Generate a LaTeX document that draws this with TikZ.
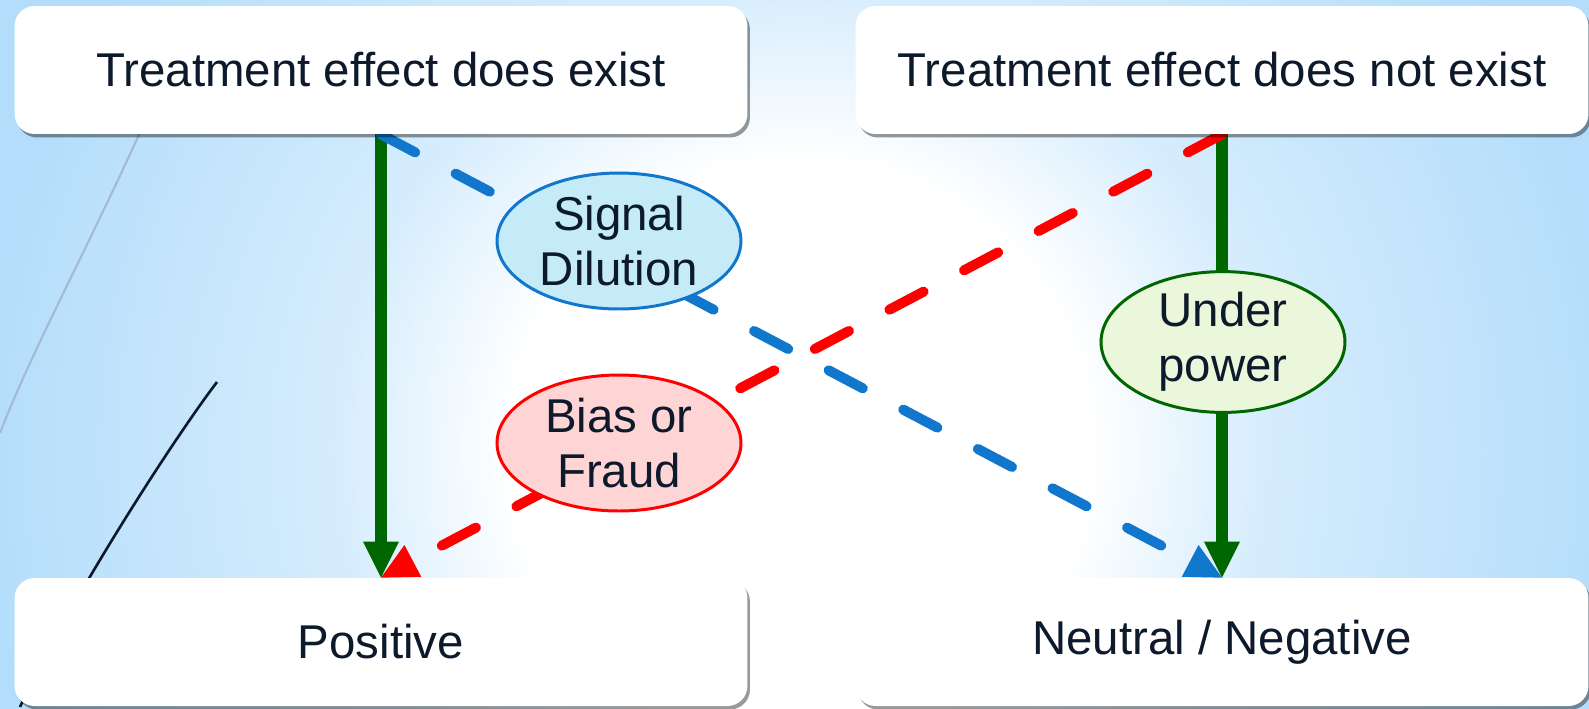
\documentclass[tikz,border=0pt]{standalone}
\usepackage{fontspec}
\setmainfont{Liberation Sans}
\usetikzlibrary{arrows.meta,shapes.geometric,shadows}
\definecolor{bgblue}{RGB}{179,221,251}
\colorlet{bgmid}{bgblue!55!white}
\definecolor{decorgray}{RGB}{165,185,212}
\definecolor{txtnavy}{RGB}{12,26,44}
\definecolor{effgreen}{RGB}{0,102,0}
\definecolor{dilblue}{RGB}{17,119,204}
\definecolor{dilfill}{RGB}{197,234,248}
\definecolor{biasred}{RGB}{255,0,0}
\definecolor{biasfill}{RGB}{255,212,212}
\definecolor{powfill}{RGB}{235,247,218}
\pgfdeclarelayer{bg}
\pgfdeclarelayer{lines}
\pgfsetlayers{bg,lines,main}
\pgfdeclareradialshading{bgglow}{\pgfpoint{0bp}{0bp}}{color(0bp)=(white); color(8bp)=(white); color(13bp)=(bgmid); color(23bp)=(bgblue); color(50bp)=(bgblue)}
\tikzset{
  outcome/.style={fill=white, rounded corners=0.4cm, minimum width=14.66cm, minimum height=2.56cm, inner sep=0pt, text=txtnavy, font=\fontsize{27}{31.5}\selectfont, drop shadow={shadow xshift=0.05cm, shadow yshift=-0.07cm, fill=black, opacity=0.4}},
  cause/.style={ellipse, draw, line width=1.7pt, minimum width=4.88cm, minimum height=2.72cm, inner sep=0pt, align=center, text=txtnavy, font=\fontsize{27}{31.5}\selectfont},
  solidarrow/.style={draw=effgreen, line width=6.8pt, -{Triangle[length=0.72cm,width=0.72cm,line width=0pt]}},
  dasharrow/.style={line width=5.7pt, line cap=round, dash pattern=on 22pt off 26pt, -{Triangle[length=0.72cm,width=0.72cm,line width=0pt]}}
}
\begin{document}
\begin{tikzpicture}[x=0.02cm, y=-0.02cm]
\useasboundingbox (0,0) rectangle (1589,708);
% background
\begin{pgfonlayer}{bg}
\begin{scope}
\clip (0,0) rectangle (1589,708);
\fill[bgblue] (0,0) rectangle (1589,708);
\shade[shading=bgglow] (800,450) circle[radius=900];
\draw[decorgray, line width=1.2pt] (0,433) .. controls (40,330) and (100,230) .. (190,20);
\draw[txtnavy, line width=1.5pt] (217,382) .. controls (175,437) and (70,599) .. (20,707);
\end{scope}
\end{pgfonlayer}
% outcomes
\node[outcome] (exist) at (381,70) {Treatment effect does exist};
\node[outcome] (noexist) at (1222,70) {Treatment effect does not exist};
\node[outcome] (pos) at (381,642) {Positive};
\node[outcome] (neg) at (1222,642) {Neutral / Negative};
% causes
\node[cause, draw=dilblue, fill=dilfill] (dilution) at (619,241) {Signal\\Dilution};
\node[cause, draw=biasred, fill=biasfill] (fraud) at (619,443) {Bias or\\Fraud};
\node[cause, draw=effgreen, fill=powfill] (power) at (1223,342) {Under\\power};
% connectors
\begin{pgfonlayer}{lines}
\draw[solidarrow] (exist) -- (pos);
\draw[solidarrow] (noexist) -- (neg);
\draw[dasharrow, draw=dilblue] (exist.south) -- (neg.north);
\draw[dasharrow, draw=biasred] (noexist.south) -- (pos.north);
\end{pgfonlayer}
\end{tikzpicture}
\end{document}
